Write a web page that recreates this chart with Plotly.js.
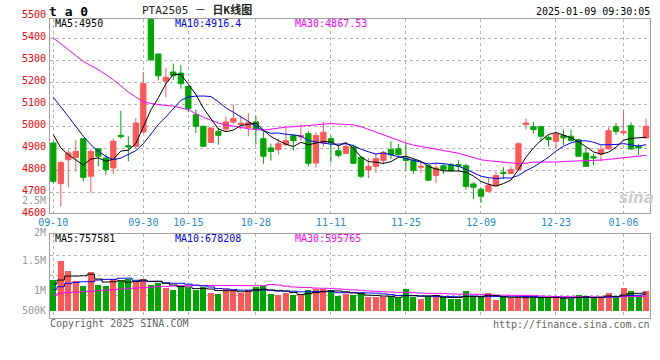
<!DOCTYPE html>
<html><head><meta charset="utf-8">
<script src="https://cdn.plot.ly/plotly-3.0.1.min.js"></script>
<style>html,body{margin:0;padding:0;background:#fff}#c{width:660px;height:360px}</style>
</head><body><div id="c"></div>
<script>
// ---------- data ----------
const dates = ['2024-09-10','2024-09-11','2024-09-12','2024-09-13','2024-09-18','2024-09-19','2024-09-20','2024-09-23','2024-09-24','2024-09-25',
'2024-09-26','2024-09-27','2024-09-30','2024-10-08','2024-10-09','2024-10-10','2024-10-11','2024-10-14','2024-10-15','2024-10-16',
'2024-10-17','2024-10-18','2024-10-21','2024-10-22','2024-10-23','2024-10-24','2024-10-25','2024-10-28','2024-10-29','2024-10-30',
'2024-10-31','2024-11-01','2024-11-04','2024-11-05','2024-11-06','2024-11-07','2024-11-08','2024-11-11','2024-11-12','2024-11-13',
'2024-11-14','2024-11-15','2024-11-18','2024-11-19','2024-11-20','2024-11-21','2024-11-22','2024-11-25','2024-11-26','2024-11-27',
'2024-11-28','2024-11-29','2024-12-02','2024-12-03','2024-12-04','2024-12-05','2024-12-06','2024-12-09','2024-12-10','2024-12-11',
'2024-12-12','2024-12-13','2024-12-16','2024-12-17','2024-12-18','2024-12-19','2024-12-20','2024-12-23','2024-12-24','2024-12-25',
'2024-12-26','2024-12-27','2024-12-30','2024-12-31','2025-01-02','2025-01-03','2025-01-06','2025-01-07','2025-01-08','2025-01-09'];

const open = [4924,4739,4848,4859,4944,4773,4898,4856,4811,4959,
4912,4909,4974,5500,5329,5205,5247,5242,5182,5053,
5000,4927,4977,4988,5020,5008,4995,5020,4944,4902,
4894,4917,4958,4952,4967,4833,4924,4944,4889,4877,
4906,4859,4802,4818,4845,4894,4898,4856,4845,4814,
4821,4777,4821,4826,4826,4821,4738,4714,4705,4732,
4791,4786,4803,5008,4998,4998,4950,4932,4958,4955,
4939,4879,4862,4874,4898,4998,4970,5003,4909,4947];

const high = [4932,4841,4894,4939,4944,4897,4902,4871,4944,5071,
4955,5038,5247,5500,5329,5265,5285,5280,5182,5076,
5003,4995,4992,5045,5098,5045,5061,5048,4977,4921,
4942,4992,4959,5008,4977,4973,5020,4958,4914,4924,
4917,4859,4856,4879,4889,4932,4920,4924,4852,4836,
4830,4829,4829,4833,4848,4830,4745,4720,4765,4795,
4814,4818,4927,5035,5020,5003,4959,4977,4985,4985,
4944,4902,4874,4912,4995,5015,5071,5018,4920,5035];

const low = [4742,4636,4723,4795,4750,4697,4818,4780,4783,4944,
4841,4902,4970,5295,5209,5132,5211,5171,5064,4970,
4906,4924,4917,4977,5011,4985,4955,4917,4830,4844,
4871,4909,4891,4935,4818,4811,4909,4836,4859,4874,
4830,4765,4765,4788,4826,4852,4867,4800,4783,4788,
4753,4742,4783,4795,4795,4712,4670,4652,4702,4727,
4762,4783,4800,4985,4967,4932,4909,4902,4914,4932,
4862,4818,4823,4841,4894,4962,4962,4894,4871,4944];

const close = [4750,4836,4879,4886,4768,4886,4864,4803,4932,4953,
4906,5015,5194,5303,5230,5223,5230,5194,5080,5000,
4909,4992,4959,5020,5035,5014,5017,4988,4864,4886,
4921,4935,4935,4958,4832,4958,4973,4924,4868,4908,
4832,4773,4818,4853,4882,4871,4871,4845,4800,4818,
4755,4811,4803,4798,4818,4727,4723,4682,4732,4776,
4786,4803,4921,5015,4985,4955,4939,4965,4947,4935,
4864,4818,4856,4894,4980,4977,4977,4897,4902,5000];

const volume = [1288000,2100000,1666000,1246000,1036000,1624000,1078000,1036000,1316000,1246000,
1316000,1218000,1330000,1064000,1176000,966000,868000,1008000,938000,868000,
980000,756000,700000,896000,868000,756000,868000,980000,1050000,700000,
658000,742000,658000,658000,868000,896000,896000,868000,616000,700000,
658000,728000,560000,560000,560000,616000,518000,896000,560000,490000,
616000,616000,560000,490000,490000,826000,616000,560000,742000,448000,
560000,518000,588000,616000,518000,518000,518000,616000,518000,476000,
658000,616000,518000,560000,742000,518000,952000,826000,616000,826000];

// moving-average values before a full window exists
const ma5Head  = [4962,4902,4871,4848];
const ma10Head = [5132,5091,5045,5000,4955,4917,4886,4864,4848];
const ma30Head = [5402,5375,5350,5322,5295,5276,5258,5235,5212,5184,5156,5133,5111,5104,5098,5095,5092,5085,5076,5058,5041,5028,5015,5007,5000,4994,4989,4985,4983];
const vma5Head  = [1120000,1288000,1456000,1456000];
const vma10Head = [896000,1008000,1148000,1190000,1218000,1218000,1288000,1316000,1316000];
const vma30Head = [658000,728000,770000,784000,798000,812000,840000,868000,882000,910000,938000,952000,966000,980000,1008000,1022000,1036000,1050000,1050000,1055000,1058000,1060000,1060000,1058000,1055000,1055000,1052000,1050000,1050000];

const tickDates  = ['2024-09-10','2024-09-30','2024-10-15','2024-10-28','2024-11-11','2024-11-25','2024-12-09','2024-12-23','2025-01-06'];
const tickLabels = ['09-10','09-30','10-15','10-28','11-11','11-25','12-09','12-23','01-06'];
const priceTicks = [5500,5400,5300,5200,5100,5000,4900,4800,4700,4600];
const volLabels  = ['2.5M','2M','1.5M','1M','500K'];
const priceLegend = ['MA5:4950','MA10:4916.4','MA30:4867.53'];
const volLegend   = ['MA5:757581','MA10:678208','MA30:595765'];
const titleText = 'PTA2505 － <b>日K线图</b>';
const stampText = '2025-01-09 09:30:05';

// ---------- helpers ----------
function ma(src, n, head){
  return src.map((_, i) => i < n-1 ? head[i] : src.slice(i-n+1, i+1).reduce((a,b)=>a+b,0)/n);
}
const RED='#ff5656', GREEN='#00a600', BLUE='#0000ff', MAG='#ff00ff';
const MONO="'DejaVu Sans Mono', monospace";
const CJK="'DejaVu Sans Mono','Noto Sans CJK SC', monospace";
const PX = x => (x - 50) / 600;
const PY = y => (318 - y) / 299;
const yDom = [0.3512, 1], yRange = [4606, 5488];
const y2Dom = [0, 0.2799], y2Range = [-306600, 3208800];
const priceToPaper = v => yDom[0] + (v - yRange[0]) / (yRange[1] - yRange[0]) * (yDom[1] - yDom[0]);

const volColors = close.map((c, i) => c >= open[i] ? RED : GREEN);

const traces = [
  {type:'candlestick', x:dates, open:open, high:high, low:low, close:close, xaxis:'x', yaxis:'y',
   increasing:{line:{color:RED, width:1}, fillcolor:RED},
   decreasing:{line:{color:GREEN, width:1}, fillcolor:GREEN},
   whiskerwidth:0, hoverinfo:'skip'},
  {type:'scatter', mode:'lines', x:dates, y:ma(close,30,ma30Head), line:{color:MAG, width:1}, xaxis:'x', yaxis:'y', hoverinfo:'skip'},
  {type:'scatter', mode:'lines', x:dates, y:ma(close,10,ma10Head), line:{color:BLUE, width:1}, xaxis:'x', yaxis:'y', hoverinfo:'skip'},
  {type:'scatter', mode:'lines', x:dates, y:ma(close,5,ma5Head), line:{color:'#000', width:1}, xaxis:'x', yaxis:'y', hoverinfo:'skip'},
  {type:'bar', x:dates, y:volume, marker:{color:volColors, line:{width:0}}, width:0.8, xaxis:'x2', yaxis:'y2', hoverinfo:'skip'},
  {type:'scatter', mode:'lines', x:dates, y:ma(volume,30,vma30Head), line:{color:MAG, width:1, shape:'hvh'}, xaxis:'x2', yaxis:'y2', hoverinfo:'skip'},
  {type:'scatter', mode:'lines', x:dates, y:ma(volume,10,vma10Head), line:{color:BLUE, width:1, shape:'hvh'}, xaxis:'x2', yaxis:'y2', hoverinfo:'skip'},
  {type:'scatter', mode:'lines', x:dates, y:ma(volume,5,vma5Head), line:{color:'#000', width:1, shape:'hvh'}, xaxis:'x2', yaxis:'y2', hoverinfo:'skip'}
];

const ann = [];
function txt(text, x, y, xanchor, color, size, extra){
  ann.push(Object.assign({text:text, xref:'paper', yref:'paper', x:x, y:y, xanchor:xanchor, yanchor:'middle',
    showarrow:false, borderpad:0, borderwidth:0, font:{family:MONO, size:size, color:color}}, extra||{}));
}
// header
txt('<b>t a 0</b>', PX(49), PY(11.5), 'left', '#000', 13);
txt(titleText, PX(197), PY(10.5), 'center', '#222', 11, {font:{family:CJK, size:11, color:'#222'}});
txt(stampText, PX(650), PY(11), 'right', '#000', 10);
// legends
const legX = [55, 175, 295], legC = ['#000', BLUE, MAG];
priceLegend.forEach((t, i) => txt(t, PX(legX[i]), PY(23.5), 'left', legC[i], 10));
volLegend.forEach((t, i) => txt(t, PX(legX[i]), PY(238.5), 'left', legC[i], 10));
// price labels
priceTicks.forEach(v => txt(String(v), PX(46), priceToPaper(v), 'right', '#ff0000', 10, {yshift:1.5}));
// volume labels
const volLabelY = [200, 232, 260.5, 290.3, 310.5];
volLabels.forEach((t, i) => txt(t, PX(46), PY(volLabelY[i]), 'right', '#999', 10));
// footer
txt('Copyright 2025 SINA.COM', PX(50), PY(323.5), 'left', '#666', 10);
txt('http://finance.sina.com.cn', PX(650), PY(324), 'right', '#666', 10);
// watermark
txt('<b><i>sina</i></b>', PX(636), PY(198), 'center', '#c8c8c8', 15, {font:{family:'DejaVu Sans', size:15, color:'#cccccc'}});

const gridC = '#b4b4b4', lineC = '#a0a0a0';
const xBase = {type:'category', range:[-0.44, 79.53], tickvals:tickDates, ticktext:tickLabels,
  showgrid:true, gridcolor:gridC, griddash:'dot', gridwidth:1, showline:true, mirror:true,
  linecolor:lineC, linewidth:1, ticks:'', zeroline:false, fixedrange:true};
const layout = {
  width:660, height:360, margin:{l:50, r:10, t:19, b:42},
  paper_bgcolor:'#fff', plot_bgcolor:'#fff', showlegend:false,
  boxgap:0.3, boxgroupgap:0, bargap:0,
  font:{family:MONO, size:10},
  xaxis:Object.assign({}, xBase, {anchor:'y', domain:[0,1], rangeslider:{visible:false},
    tickfont:{family:MONO, size:10, color:'#1f8ad8'}}),
  xaxis2:Object.assign({}, xBase, {anchor:'y2', domain:[0,1], showticklabels:false, rangeslider:{visible:false}}),
  yaxis:{domain:yDom, range:yRange, tickvals:priceTicks, showticklabels:false, showgrid:true,
    gridcolor:gridC, griddash:'dot', gridwidth:1, showline:true, mirror:true, linecolor:lineC, linewidth:1,
    ticks:'', zeroline:false, fixedrange:true},
  yaxis2:{domain:y2Dom, range:y2Range, tickvals:[630000, 1484000, 2338000], showticklabels:false, showgrid:true,
    gridcolor:gridC, griddash:'dot', gridwidth:1, showline:true, mirror:true, linecolor:lineC, linewidth:1,
    ticks:'', zeroline:false, fixedrange:true},
  annotations:ann
};
Plotly.newPlot('c', traces, layout, {staticPlot:true, displayModeBar:false});
</script></body></html>
